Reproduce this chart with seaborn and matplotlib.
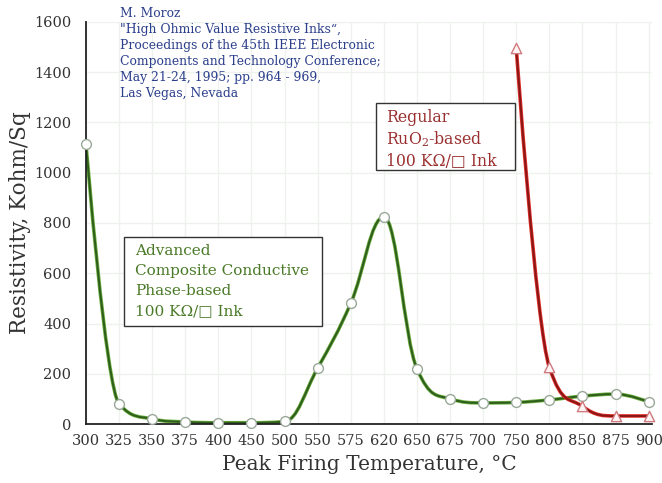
import numpy as np
import pandas as pd
import matplotlib
matplotlib.use("Agg")
import matplotlib.pyplot as plt
from matplotlib.path import Path
from matplotlib.patches import PathPatch, Rectangle
import seaborn as sns

# ---------------- data ----------------
temps = ["300", "325", "350", "375", "400", "450", "500", "550", "575", "620",
         "650", "675", "700", "750", "800", "850", "875", "900"]
advanced = [1115, 80, 20, 8, 5, 5, 10, 223, 481, 824,
            219, 100, 84, 86, 96, 111, 119, 88]
regular_temps = ["750", "800", "850", "875", "900"]
regular = [1495, 225, 70, 32, 32]
y_ticks = [0, 200, 400, 600, 800, 1000, 1200, 1400, 1600]

pos = {t: i for i, t in enumerate(temps)}
df_adv = pd.DataFrame({"x": [pos[t] for t in temps], "y": advanced})
df_reg = pd.DataFrame({"x": [pos[t] for t in regular_temps], "y": regular})

sns.set_theme(style="white")
plt.rcParams["font.family"] = ["DejaVu Serif", "DejaVu Sans"]
plt.rcParams["mathtext.fontset"] = "dejavuserif"

W, H = 662, 483
fig = plt.figure(figsize=(W / 100, H / 100), dpi=100)
ax = fig.add_axes([86 / W, 59 / H, 566 / W, 402 / H])


def spline_path(xs, ys, smoothing=1.5):
    xs = list(map(float, xs)); ys = list(map(float, ys))
    n = len(xs)
    left = [(xs[i], ys[i]) for i in range(n)]
    right = [(xs[i], ys[i]) for i in range(n)]
    d = smoothing + 1
    for i in range(1, n - 1):
        px, py = xs[i], ys[i]
        lx, ly = xs[i - 1], ys[i - 1]
        nx, ny = xs[i + 1], ys[i + 1]
        lcx = (smoothing * px + lx) / d
        lcy = (smoothing * py + ly) / d
        rcx = (smoothing * px + nx) / d
        rcy = (smoothing * py + ny) / d
        corr = 0.0
        if rcx != lcx:
            corr = ((rcy - lcy) * (rcx - px)) / (rcx - lcx) + py - rcy
        lcy += corr; rcy += corr
        if lcy > ly and lcy > py:
            lcy = max(ly, py); rcy = 2 * py - lcy
        elif lcy < ly and lcy < py:
            lcy = min(ly, py); rcy = 2 * py - lcy
        if rcy > ny and rcy > py:
            rcy = max(ny, py); lcy = 2 * py - rcy
        elif rcy < ny and rcy < py:
            rcy = min(ny, py); lcy = 2 * py - rcy
        left[i] = (lcx, lcy)
        right[i] = (rcx, rcy)
    verts = [(xs[0], ys[0])]
    codes = [Path.MOVETO]
    for i in range(1, n):
        verts += [right[i - 1], left[i], (xs[i], ys[i])]
        codes += [Path.CURVE4] * 3
    return Path(verts, codes)


# grid
for i in range(len(temps)):
    ax.axvline(i, color="#edf2ec", lw=1, zorder=0)
for v in y_ticks[1:]:
    ax.axhline(v, color="#edf2ec", lw=1, zorder=0)

# green smooth line
p = spline_path(df_adv["x"], df_adv["y"])
ax.add_patch(PathPatch(p, fill=False, ec="#6fb040", lw=2.6, zorder=2, capstyle="round"))
ax.add_patch(PathPatch(p, fill=False, ec="#2f5f1c", lw=1.5, zorder=2.1, capstyle="round"))
# red smooth line
p2 = spline_path(df_reg["x"], df_reg["y"])
ax.add_patch(PathPatch(p2, fill=False, ec="#e8322c", lw=2.6, zorder=3, capstyle="round"))
ax.add_patch(PathPatch(p2, fill=False, ec="#8a1616", lw=1.5, zorder=3.1, capstyle="round"))

sns.scatterplot(data=df_adv, x="x", y="y", ax=ax, marker="o", s=50,
                color="white", edgecolor="#9aa89a", linewidth=1.0, zorder=4, clip_on=False)
sns.scatterplot(data=df_reg, x="x", y="y", ax=ax, marker="^", s=55,
                color="#fff4f4", edgecolor="#d07a80", linewidth=1.0, zorder=5, clip_on=False)

ax.set_xlim(0, 17.1)
ax.set_ylim(0, 1600)
ax.set_xticks(range(len(temps)))
ax.set_xticklabels(temps)
ax.set_yticks(y_ticks)
ax.set_yticklabels([str(v) for v in y_ticks])

for s in ["top", "right"]:
    ax.spines[s].set_visible(False)
for s in ["left", "bottom"]:
    ax.spines[s].set_color("#222222")
    ax.spines[s].set_linewidth(1.3)
ax.tick_params(axis="both", direction="inout", length=9, width=1.2, color="#222222",
               labelsize=10.5, labelcolor="#333333", pad=3)
ax.tick_params(axis="y", pad=6)

ax.set_xlabel("Peak Firing Temperature, °C", fontsize=14.5, color="#333333", labelpad=5)
ax.set_ylabel("Resistivity, Kohm/Sq", fontsize=15.5, color="#333333", labelpad=2)

# reference text
ref = ("M. Moroz\n\"High Ohmic Value Resistive Inks\u201c,\nProceedings of the 45th IEEE Electronic\n"
       "Components and Technology Conference;\nMay 21-24, 1995; pp. 964 - 969,\nLas Vegas, Nevada")
fig.text(120 / W, 1 - 7 / H, ref, ha="left", va="top", fontsize=8.9, color="#2b3f8c",
         linespacing=1.3)


def box(x0, y0, x1, y1):
    fig.patches.append(Rectangle((x0 / W, 1 - y1 / H), (x1 - x0) / W, (y1 - y0) / H,
                                 transform=fig.transFigure, fc="white", ec="#333333",
                                 lw=1.0, zorder=9))


box(376, 103, 515, 170)
fig.text(386 / W, 1 - 109 / H, "Regular\nRuO$_2$-based\n100 K\u03a9/\u25a1 Ink",
         ha="left", va="top", fontsize=11.3, color="#9b3030", linespacing=1.25, zorder=10)
box(124, 237, 322, 326)
fig.text(135 / W, 1 - 244 / H,
         "Advanced\nComposite Conductive\nPhase-based\n100 K\u03a9/\u25a1 Ink",
         ha="left", va="top", fontsize=11, color="#4a7a28", linespacing=1.55, zorder=10)

fig.savefig("out.png", dpi=100, facecolor="white")
